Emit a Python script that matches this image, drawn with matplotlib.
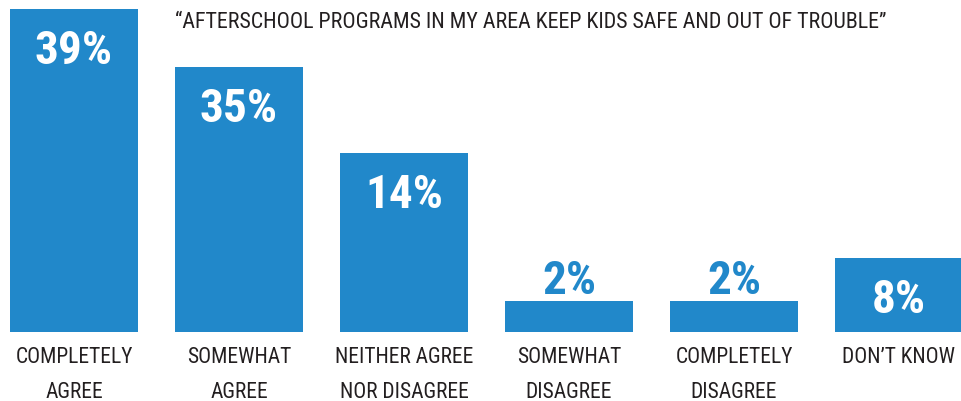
import matplotlib
matplotlib.use("Agg")
import matplotlib.pyplot as plt

# data
categories = ["COMPLETELY\nAGREE", "SOMEWHAT\nAGREE", "NEITHER AGREE\nNOR DISAGREE",
              "SOMEWHAT\nDISAGREE", "COMPLETELY\nDISAGREE", "DON\u2019T KNOW"]
percent = [39, 35, 14, 2, 2, 8]
# bar heights as drawn in the source graphic (not proportional to the percents)
bar_heights = [323, 265, 179, 31, 31, 74]
title = "\u201cAFTERSCHOOL PROGRAMS IN MY AREA KEEP KIDS SAFE AND OUT OF TROUBLE\u201d"

blue = "#2188ca"
dark = "#231f20"

plt.rcParams["font.family"] = ["Roboto Condensed", "DejaVu Sans"]

fig = plt.figure(figsize=(9.61, 4.02), dpi=100)
ax = fig.add_axes([0, 0, 1, 1])
ax.set_xlim(-74 / 165, (961 - 74) / 165)
ax.set_ylim(-69, 333)
ax.axis("off")

x = range(len(percent))
bars = ax.bar(x, bar_heights, width=128 / 165, color=blue)

for i, rect in enumerate(bars):
    h = rect.get_height()
    cx = rect.get_x() + rect.get_width() / 2
    # big numbers inside the tall bars, above the short ones
    if h > 60:
        ax.text(cx, h - 54, "%d%%" % percent[i], color="white", fontsize=34,
                fontweight="bold", ha="center", va="baseline")
    else:
        ax.text(cx, h + 8, "%d%%" % percent[i], color=blue, fontsize=34,
                fontweight="bold", ha="center", va="baseline")
    for j, line in enumerate(categories[i].split("\n")):
        ax.text(cx, -30 - 35 * j, line, color=dark, fontsize=15.5, ha="center",
                va="baseline")

ax.text((175 - 74) / 165, 305, title, color=dark, fontsize=15.8, ha="left", va="baseline")

fig.savefig("out.png", dpi=100)
